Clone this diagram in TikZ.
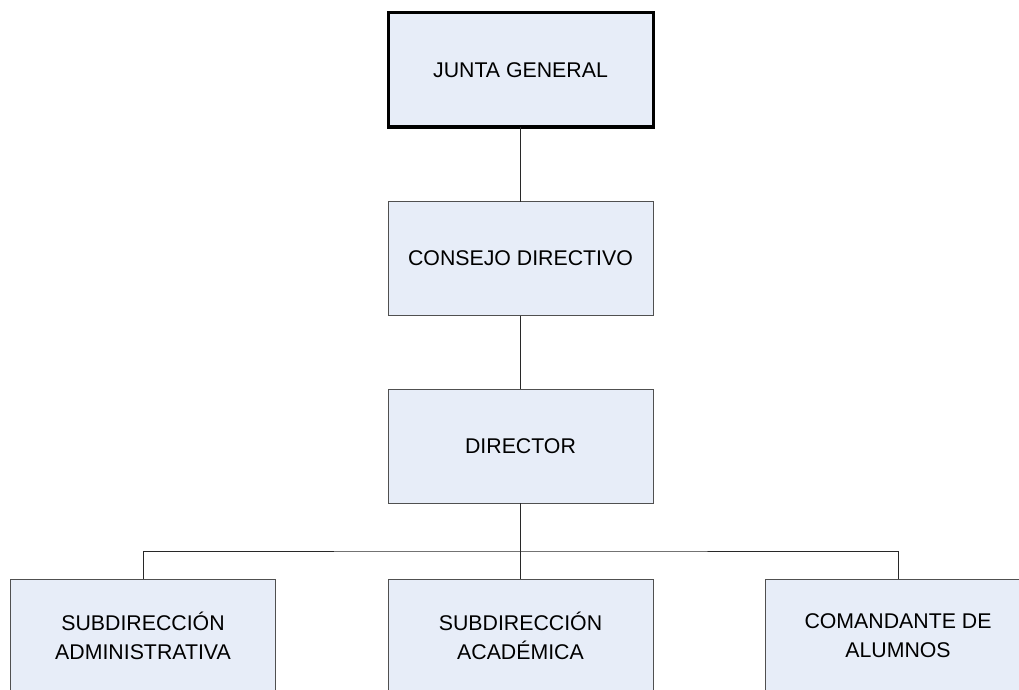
\documentclass[tikz,border=0pt]{standalone}
\usepackage{fontspec}
\setmainfont{Liberation Sans}
\definecolor{boxfill}{RGB}{231,237,248}
\definecolor{boxline}{RGB}{80,80,80}
\definecolor{wire}{RGB}{40,40,40}
\begin{document}
\begin{tikzpicture}[x=1pt,y=-1pt,
  unit/.style={draw=boxline, line width=1pt, fill=boxfill, minimum width=265pt,
    minimum height=114pt, inner sep=0pt, outer sep=0pt, align=center,
    font=\fontsize{21.3}{29}\selectfont, text=black},
  topunit/.style={unit, draw=black, line width=3pt},
  link/.style={draw=wire, line width=1pt}]
\useasboundingbox (0,0) rectangle (1019,690);
\clip (0,0) rectangle (1019,690);
\fill[white] (0,0) rectangle (1019,690);

\node[topunit] (jg) at (520.5,70) {JUNTA GENERAL};
\node[unit] (cd) at (520.5,258.5) {CONSEJO DIRECTIVO};
\node[unit] (dir) at (520.5,446) {DIRECTOR};
\node[unit] (sa) at (143,636) {SUBDIRECCIÓN\\ADMINISTRATIVA};
\node[unit] (sac) at (520.5,636) {SUBDIRECCIÓN\\ACADÉMICA};
\node[unit] (ca) at (898,636) {COMANDANTE DE\\ALUMNOS};

\coordinate (bus) at (520.5,551);

\draw[link] (jg.south) -- (cd.north);
\draw[link] (cd.south) -- (dir.north);
\draw[link] (dir.south) -- (sac.north);
\draw[link] (sa.north) |- (bus) -| (ca.north);
\end{tikzpicture}
\end{document}
